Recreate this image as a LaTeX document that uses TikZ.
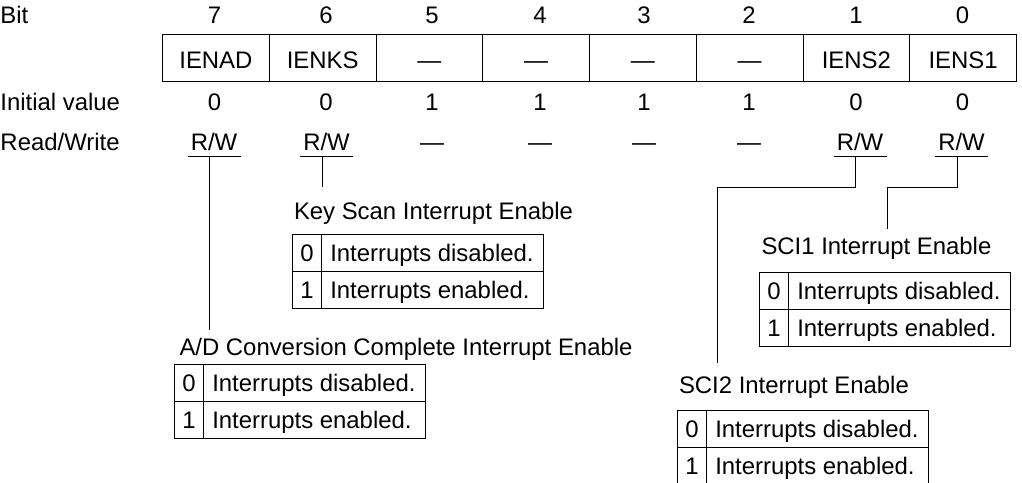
\documentclass[tikz,border=0pt]{standalone}
\usepackage{fontspec}
\setmainfont{Liberation Sans}
\newcommand\enabletable[6]{% #1 name, #2 left, #3 top, #4 title x offset, #5 title gap, #6 title
  \node[lblw] (#1t) at (#2+#4,#3-#5) {#6};
  \node[bitcell] (#1a0) at (#2,#3) {0};
  \node[desccell] (#1b0) at (#2+29,#3) {\makebox[102.2pt][l]{Interrupts disabled.}};
  \node[bitcell] (#1a1) at (#2,#3+37) {1};
  \node[desccell] (#1b1) at (#2+29,#3+37) {\makebox[102.2pt][l]{Interrupts enabled.}};
}
\begin{document}
\begin{tikzpicture}[x=0.5pt,y=-0.5pt,line width=0.5pt,
  every node/.style={font=\fontsize{11.95}{14}\selectfont},
  lbl/.style={inner sep=0pt, anchor=base},
  lblw/.style={inner sep=0pt, anchor=base west},
  regcell/.style={draw, anchor=north west, minimum width=53.375pt, minimum height=23.5pt,
    inner sep=0pt, text height=10.6pt, text depth=0pt},
  rw/.style={inner xsep=1.385pt, inner ysep=2.6pt, text depth=0pt, anchor=base},
  bitcell/.style={draw, anchor=north west, minimum width=14.5pt, minimum height=18.5pt,
    inner sep=0pt, text height=8.5pt, text depth=0pt},
  desccell/.style={draw, anchor=north west, minimum width=111pt, minimum height=18.5pt,
    inner xsep=4.4pt, inner ysep=0pt, text height=8.5pt, text depth=0pt}]
\useasboundingbox (0,0) rectangle (1022,482);

% row headings
\node[lblw] (hbit) at (0,23.3) {Bit};
\node[lblw] (hini) at (0,110) {Initial value};
\node[lblw] (hrw) at (0,150.5) {Read/Write};

% register cells
\foreach \i/\nm/\lab in {0/r7/IENAD,1/r6/IENKS,2/r5/—,3/r4/—,4/r3/—,5/r2/—,6/r1/IENS2,7/r0/IENS1}
  \node[regcell] (\nm) at (162+\i*106.75,34.3) {\lab};

% bit numbers and initial values
\foreach \b/\x/\iv in {7/214.5/0,6/326/0,5/432/1,4/540/1,3/644/1,2/749/1,1/856/0,0/962.5/0}{
  \node[lbl] (b\b) at (\x,23.3) {\b};
  \node[lbl] (iv\b) at (\x,110) {\iv};
}

% read/write
\foreach \b/\x in {5/432,4/540,3/644,2/749}
  \node[lbl] (rw\b) at (\x,150.5) {—};
\foreach \b/\x in {7/214,6/326.5,1/860,0/961.5}{
  \node[rw] (rw\b) at (\x,150.5) {R/W};
  \draw (rw\b.south west) -- (rw\b.south east);
  \coordinate (s\b) at ([xshift=-2.25pt]rw\b.south);
}

% tables
\enabletable{ks}{292}{234}{1.5}{15}{Key Scan Interrupt Enable}
\enabletable{sa}{759}{271.5}{2}{17}{SCI1 Interrupt Enable}
\enabletable{sb}{677}{409.5}{1.5}{16}{SCI2 Interrupt Enable}
\enabletable{ad}{174}{363.5}{5}{8}{A/D Conversion Complete Interrupt Enable}

% connectors
\coordinate (e7) at (209.5,330);
\coordinate (e6) at (322,187);
\coordinate (k1) at (717.3,187.5);
\coordinate (e1) at (717.3,363);
\coordinate (k0) at (887.7,187.5);
\coordinate (e0) at (887.7,228.5);
\draw (s7) -- (s7 |- e7);
\draw (s6) -- (s6 |- e6);
\draw (s1) |- (k1) -- (e1);
\draw (s0) |- (k0) -- (e0);
\end{tikzpicture}
\end{document}
